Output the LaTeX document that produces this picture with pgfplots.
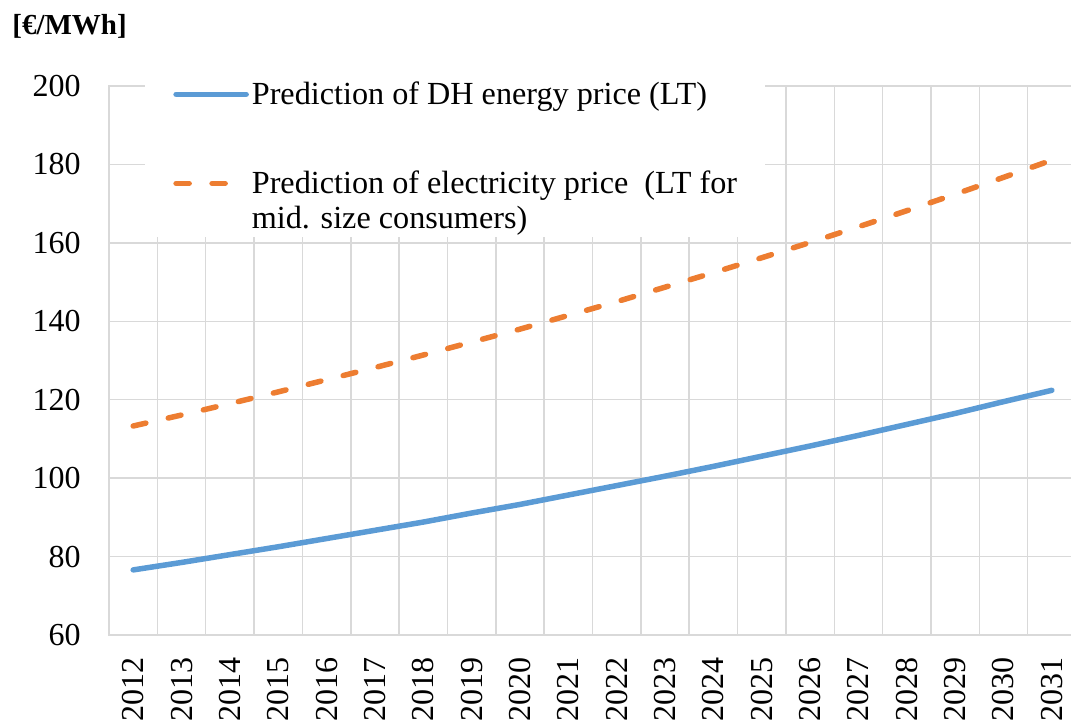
\documentclass[border=0pt]{standalone}
\usepackage{pgfplots}
\pgfplotsset{compat=1.18}
\usepackage{fontspec}
\setmainfont{Liberation Serif}
\definecolor{dhblue}{HTML}{5B9BD5}
\definecolor{elorange}{HTML}{ED7D31}
\definecolor{gridgray}{HTML}{D9D9D9}
\begin{document}
\begin{tikzpicture}
\begin{axis}[
  at={(0pt,0pt)}, anchor=south west,
  scale only axis, width=483.5pt, height=274.5pt,
  xmin=-0.5, xmax=19.5, ymin=60, ymax=200,
  xtick={0,...,19},
  xticklabels={2012,2013,2014,2015,2016,2017,2018,2019,2020,2021,2022,2023,2024,2025,2026,2027,2028,2029,2030,2031},
  minor xtick={-0.5,0.5,...,19.5},
  xminorgrids, ymajorgrids,
  ytick={60,80,...,200},
  major tick length=0pt, minor tick length=0pt,
  grid style={draw=gridgray, line width=0.75pt},
  minor grid style={draw=gridgray, line width=0.75pt},
  axis line style={draw=gridgray, line width=0.75pt},
  tick label style={font=\fontsize{16}{19}\selectfont, /pgf/number format/assume math mode=true},
  xticklabel style={rotate=90, anchor=east, inner sep=0pt},
  xticklabel shift=11pt,
  yticklabel style={inner sep=0pt},
  yticklabel shift=14pt,
  clip=false,
  legend cell align=left,
  legend image code/.code={\draw[#1] (0pt,0pt) -- (35pt,0pt);},
  legend style={at={(0.0372,1.02)}, anchor=north west, draw=none, fill=white,
    inner xsep=14pt, inner ysep=3pt, row sep=4.9pt, column sep=1.5pt,
    font=\fontsize{16.1}{19}\selectfont, nodes={inner sep=0pt}},
]
\addplot[dhblue, line width=2.75pt, line cap=round] coordinates {
(0,76.6) (1,78.5) (2,80.5) (3,82.5) (4,84.6) (5,86.7) (6,88.8) (7,91.1) (8,93.3) (9,95.7)
(10,98.1) (11,100.5) (12,103.0) (13,105.6) (14,108.2) (15,110.9) (16,113.7) (17,116.5) (18,119.5) (19,122.4)};
\addlegendentry{Prediction of DH energy price (LT)}
\addlegendimage{empty legend}
\addlegendentry{\rule{0pt}{20.4pt}}
\addplot[elorange, line width=2.75pt, line cap=round, dash pattern=on 6.5pt off 11.5pt] coordinates {
(0,113.3) (1,116.1) (2,119.0) (3,122.0) (4,125.1) (5,128.2) (6,131.4) (7,134.7) (8,138.0) (9,141.5)
(10,145.0) (11,148.7) (12,152.4) (13,156.2) (14,160.1) (15,164.1) (16,168.2) (17,172.4) (18,176.7) (19,181.1)};
\addlegendentry{Prediction of electricity price\ \ (LT for}
\addlegendimage{empty legend}
\addlegendentry{mid. size consumers)}
\node[anchor=west, font=\fontsize{14.5}{17}\selectfont\bfseries, inner sep=0pt]
  at ([xshift=-48.5pt, yshift=29.75pt]rel axis cs:0,1) {[€/MWh]};
\end{axis}
\pgfresetboundingbox
\path[use as bounding box] (-54.5pt,-42.5pt) rectangle (481pt,317.5pt);
\end{tikzpicture}
\end{document}
